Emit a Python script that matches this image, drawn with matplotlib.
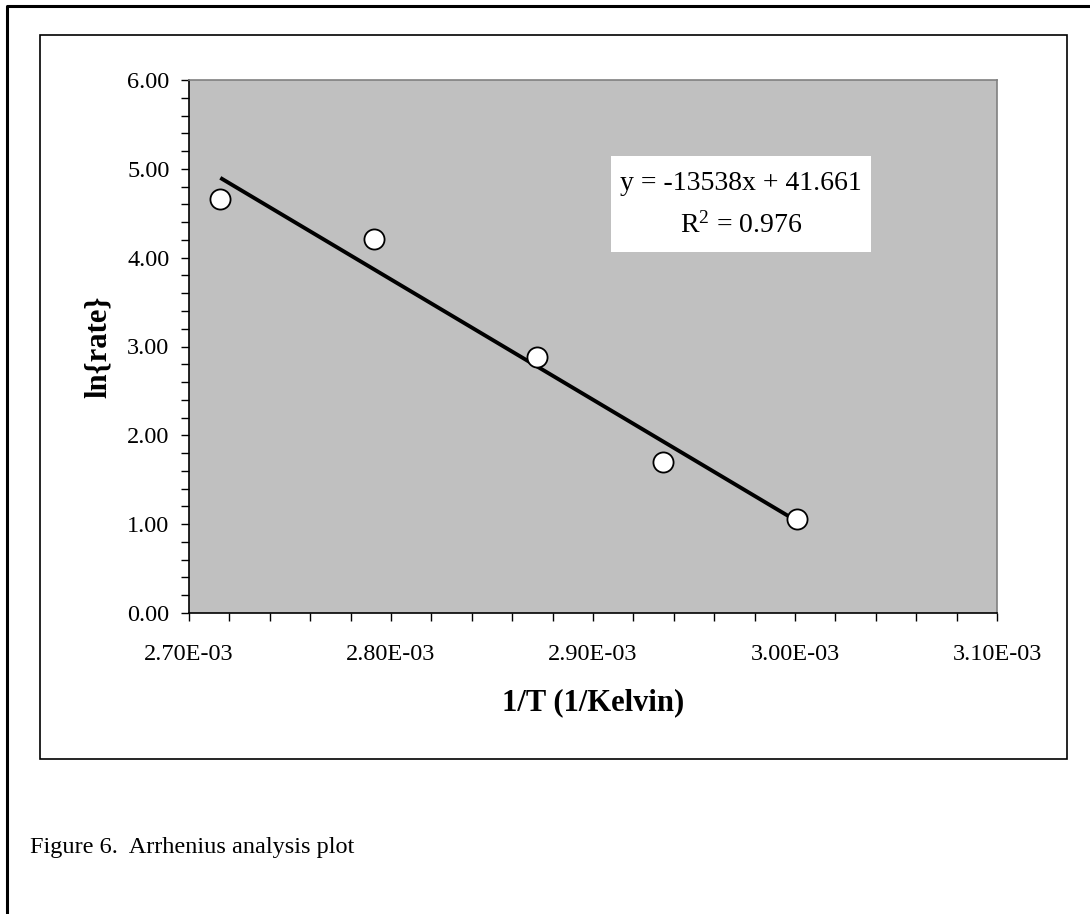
import matplotlib.pyplot as plt
from matplotlib.lines import Line2D
from matplotlib.patches import Rectangle
from matplotlib.ticker import MultipleLocator, FuncFormatter

plt.rcParams['font.family'] = ['Liberation Serif', 'DejaVu Serif']

# Data
inv_T = [2.7155e-3, 2.7917e-3, 2.8721e-3, 2.9345e-3, 3.0008e-3]
ln_rate = [4.657, 4.207, 2.878, 1.703, 1.055]

# Trendline as reported on the chart
slope = -13538
intercept = 41.661
r_squared = 0.976

W, H = 1090, 914
fig = plt.figure(figsize=(W / 100, H / 100), dpi=100)

# outer page border (left and top visible)
fig.add_artist(Line2D([7 / W, 7 / W, 1.05], [-0.05, 1 - 6 / H, 1 - 6 / H],
                      transform=fig.transFigure, color='black', lw=2.2))
# chart area border
fig.add_artist(Rectangle((40 / W, 1 - 759 / H), 1027 / W, 724 / H,
                         transform=fig.transFigure, fill=False,
                         edgecolor='black', lw=1.2))

ax = fig.add_axes([189 / W, 1 - 613 / H, (997 - 189) / W, (613 - 80) / H])
ax.set_facecolor('#c0c0c0')

# trendline
x_fit = [min(inv_T), max(inv_T)]
y_fit = [slope * x + intercept for x in x_fit]
ax.plot(x_fit, y_fit, color='black', lw=2.8, solid_capstyle='butt', zorder=2)

ax.plot(inv_T, ln_rate, 'o', ms=14.5, mfc='white', mec='black', mew=1.3,
        zorder=3, clip_on=False)

ax.set_xlim(2.7e-3, 3.1e-3)
ax.set_ylim(0, 6)
ax.xaxis.set_major_locator(MultipleLocator(1e-4))
ax.xaxis.set_minor_locator(MultipleLocator(2e-5))
ax.yaxis.set_major_locator(MultipleLocator(1))
ax.yaxis.set_minor_locator(MultipleLocator(0.2))
ax.xaxis.set_major_formatter(FuncFormatter(lambda v, p: f"{v:.2E}"))
ax.yaxis.set_major_formatter(FuncFormatter(lambda v, p: f"{v:.2f}"))

ax.tick_params(axis='both', which='both', direction='out', length=6,
               width=1, color='black', labelsize=17.5)
ax.tick_params(axis='x', which='major', pad=16)
ax.tick_params(axis='y', which='major', pad=8)

for s in ['left', 'bottom']:
    ax.spines[s].set_color('black')
    ax.spines[s].set_linewidth(1.2)
for s in ['top', 'right']:
    ax.spines[s].set_color('#808080')
    ax.spines[s].set_linewidth(1.2)

ax.set_xlabel("1/T (1/Kelvin)", fontsize=22, fontweight='bold', labelpad=17)
ax.set_ylabel("ln{rate}", fontsize=22, fontweight='bold', labelpad=10)

# equation box
ax.add_patch(Rectangle((0.5223, 0.6773), 0.3218, 0.1801, transform=ax.transAxes,
                       facecolor='white', edgecolor='none', zorder=4))
ax.text(0.683, 0.7655, f"y = {slope}x + {intercept}\n$\\mathregular{{R^2}}$ = {r_squared}",
        transform=ax.transAxes, ha='center', va='center', fontsize=20,
        linespacing=1.8, zorder=5)

fig.text(30 / W, 1 - 848 / H, "Figure 6.  Arrhenius analysis plot",
         fontsize=17.5, ha='left', va='center')

fig.savefig("out.png", dpi=100)
